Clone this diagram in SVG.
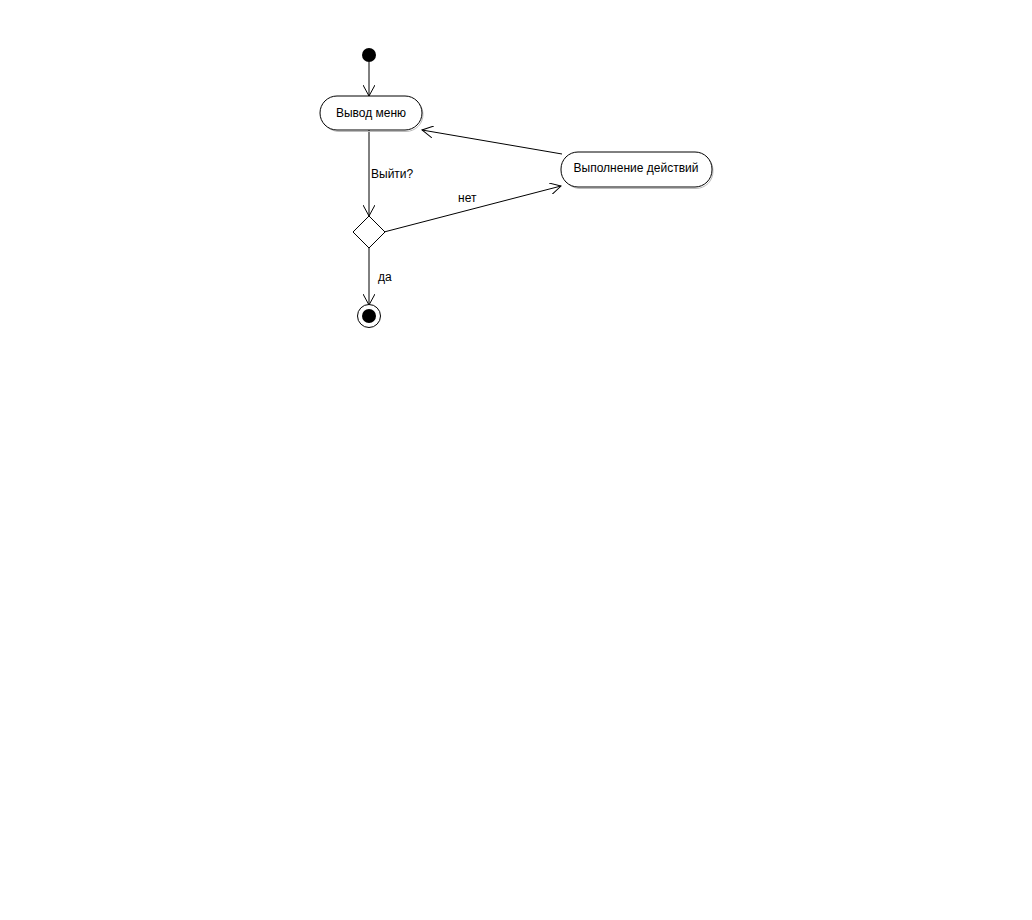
<svg xmlns="http://www.w3.org/2000/svg" width="1032" height="920" viewBox="0 0 1032 920">
<defs>
<style>
.node{fill:#fff;stroke:#000;stroke-width:1}
.shadow{fill:none;stroke:#bbb;stroke-width:1}
.edge{fill:none;stroke:#000;stroke-width:1}
.lbl{font-family:"Liberation Sans",Arial,sans-serif;font-size:12px;fill:#000}
</style>
<marker id="arr" viewBox="0 0 12 12" refX="11" refY="6" markerWidth="12" markerHeight="12" markerUnits="userSpaceOnUse" orient="auto">
<path d="M0,0 L11,6 L0,12" fill="none" stroke="#000" stroke-width="1"/>
</marker>
</defs>
<rect width="1032" height="920" fill="#fff"/>
<g id="connectors">
<line class="edge" x1="369" y1="62" x2="369" y2="96" marker-end="url(#arr)"/>
<line class="edge" x1="369" y1="130" x2="369" y2="216" marker-end="url(#arr)"/>
<line class="edge" x1="384" y1="232" x2="561" y2="186" marker-end="url(#arr)"/>
<line class="edge" x1="562" y1="154" x2="422" y2="130" marker-end="url(#arr)"/>
<line class="edge" x1="369" y1="248" x2="369" y2="305" marker-end="url(#arr)"/>
<text class="lbl" x="371" y="178">Выйти?</text>
<text class="lbl" x="458" y="202">нет</text>
<text class="lbl" x="378" y="281">да</text>
</g>
<g id="start">
<circle cx="369" cy="55" r="7" fill="#000"/>
</g>
<g id="menu">
<rect class="shadow" x="322" y="97.5" width="101" height="34" rx="17"/>
<rect class="node" x="320" y="96" width="102" height="34" rx="17"/>
<text class="lbl" x="371" y="117" text-anchor="middle">Вывод меню</text>
</g>
<g id="decision">
<polygon class="node" points="369,216 385,232 369,248 353,232"/>
</g>
<g id="action">
<rect class="shadow" x="563" y="153.5" width="150" height="35" rx="17"/>
<rect class="node" x="561" y="152" width="151" height="35" rx="17"/>
<text class="lbl" x="636" y="172" text-anchor="middle">Выполнение действий</text>
</g>
<g id="end">
<circle cx="369" cy="316" r="11.5" fill="#fff" stroke="#000" stroke-width="1"/>
<circle cx="369" cy="316" r="7" fill="#000"/>
</g>
</svg>
